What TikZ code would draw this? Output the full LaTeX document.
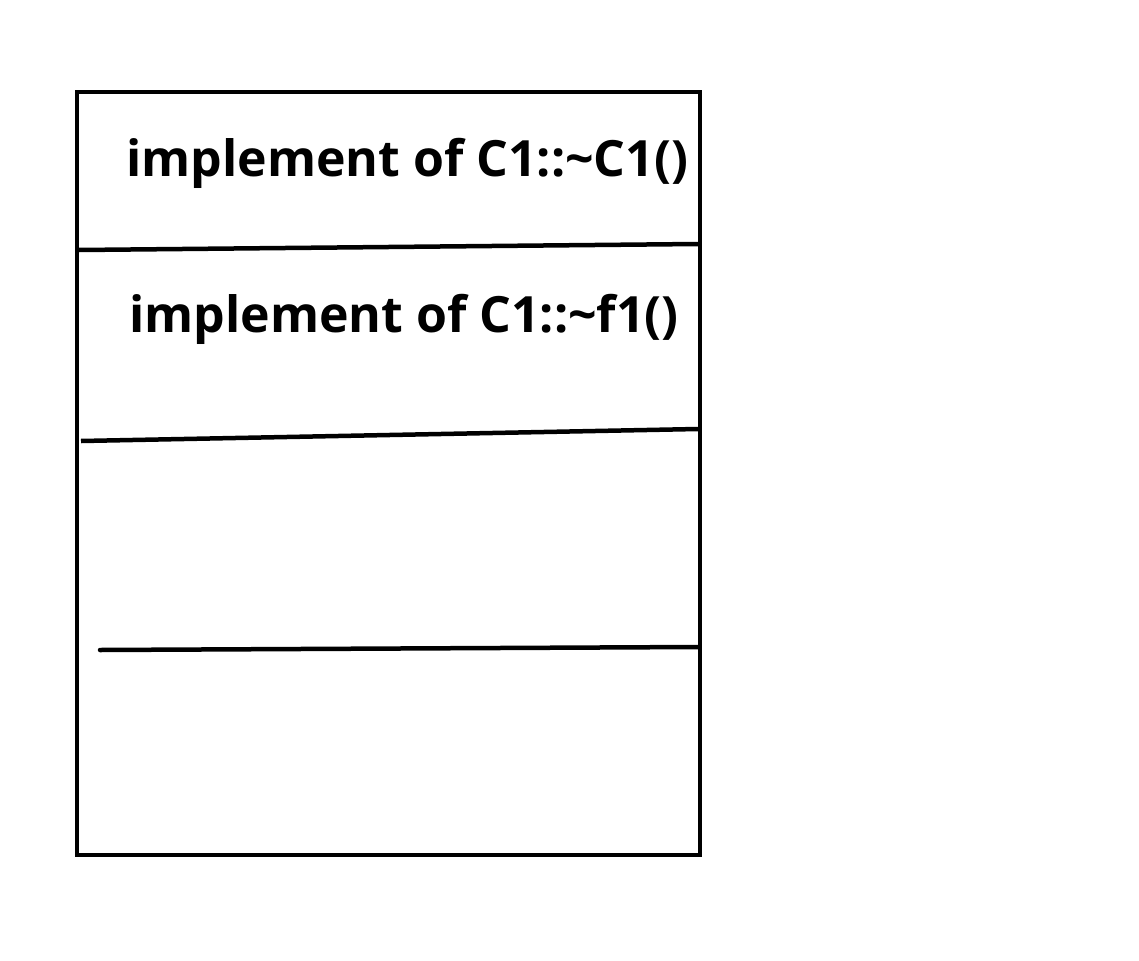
\documentclass[tikz,border=0pt]{standalone}
\usepackage{fontspec}
\setmainfont{Open Sans}
\begin{document}
\begin{tikzpicture}[x=1pt,y=-1pt,line width=4.5pt,
  slotlabel/.style={anchor=base west,inner sep=0pt,font=\fontsize{50}{54}\selectfont\bfseries}]
\useasboundingbox (0,0) rectangle (1139,960);

\draw (77,92) rectangle (700,855);

\coordinate (s1l) at (79,250);
\coordinate (s1r) at (698,244);
\coordinate (s2l) at (81,441);
\coordinate (s2r) at (698,429);
\coordinate (s3l) at (100,650);
\coordinate (s3r) at (698,647);
\draw (s1l) -- (s1r);
\draw (s2l) -- (s2r);
\draw[line cap=round] (s3l) -- (s3r);

\node[slotlabel] (dtor) at (124,176) {implement of C1::\textasciitilde C1()};
\node[slotlabel] (fone) at (127,332) {implement of C1::\textasciitilde f1()};
\end{tikzpicture}
\end{document}
